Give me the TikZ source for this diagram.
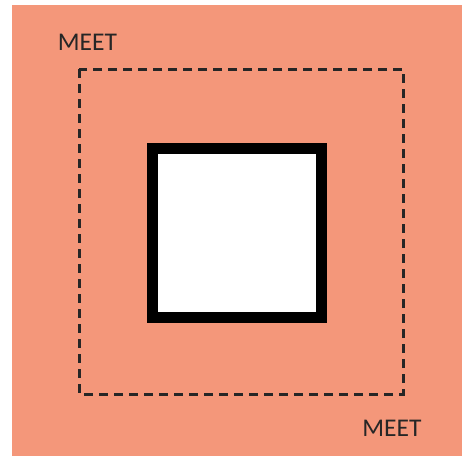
\documentclass[tikz,border=0pt]{standalone}
\usepackage{fontspec}
\setmainfont{Carlito}
\usetikzlibrary{positioning}
\definecolor{salmon}{RGB}{244,151,122}
\tikzset{
  lbl/.style={font=\fontsize{25.5}{30}\selectfont, text=black!85, inner sep=0pt},
  zone/.style={draw=black!85, line width=3pt, dash pattern=on 9pt off 6pt},
  core/.style={draw=black, fill=white, line width=11pt},
}
\begin{document}
\begin{tikzpicture}[x=1pt, y=-1pt]
  \useasboundingbox (0,0) rectangle (462,459);
  \fill[white] (0,0) rectangle (462,459);
  \fill[salmon] (12,5) rectangle (462,456);
  % dashed zone and solid core
  \draw[zone] (79,69) rectangle (403,394);
  \draw[core] (152.5,148.5) rectangle (321.5,317.5);
  \node[lbl] (meetA) at (87.5,42) {MEET};
  \node[lbl] (meetB) at (392,428) {MEET};
\end{tikzpicture}
\end{document}
